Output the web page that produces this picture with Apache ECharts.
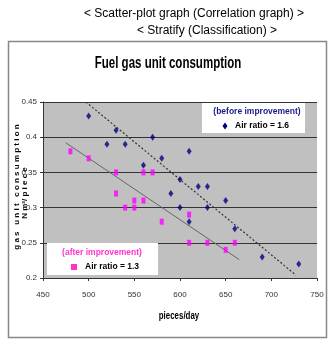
<!DOCTYPE html>
<html><head><meta charset="utf-8">
<script src="https://cdn.jsdelivr.net/npm/echarts@6/dist/echarts.min.js"></script>
<style>html,body{margin:0;padding:0;background:#fff}#c{width:332px;height:341px}</style>
</head><body><div id="c"></div>
<script>
const xTicks = [450, 500, 550, 600, 650, 700, 750];
const yTicks = [0.2, 0.25, 0.3, 0.35, 0.4, 0.45];
const beforeX = [500, 520, 530, 540, 560, 570, 580, 590, 600, 600, 610, 610, 620, 630, 630, 650, 660, 690, 730];
const beforeY = [0.43, 0.39, 0.41, 0.39, 0.36, 0.40, 0.37, 0.32, 0.34, 0.30, 0.38, 0.28, 0.33, 0.33, 0.30, 0.31, 0.27, 0.23, 0.22];
const afterX = [480, 500, 530, 530, 540, 550, 550, 560, 560, 570, 580, 610, 610, 630, 650, 660];
const afterY = [0.38, 0.37, 0.35, 0.32, 0.30, 0.31, 0.30, 0.35, 0.31, 0.35, 0.28, 0.29, 0.25, 0.25, 0.24, 0.25];
const beforeTrendX = [497, 727];
const beforeTrendY = [0.45, 0.204];
const afterTrendX = [475, 665];
const afterTrendY = [0.392, 0.226];

const zip = (a, b) => a.map((v, i) => [v, b[i]]);
const sans = "'Liberation Sans', Arial, sans-serif";
const chart = echarts.init(document.getElementById('c'), null, {renderer: 'canvas'});
chart.setOption({
  animation: false,
  grid: {left: 43, right: 15, top: 102, bottom: 63, show: true, backgroundColor: '#c0c0c0', borderWidth: 0},
  xAxis: {
    type: 'value', min: 450, max: 750, interval: 50,
    axisLine: {show: true, lineStyle: {color: '#333', width: 1}},
    axisTick: {show: true, length: 3, lineStyle: {color: '#333'}},
    splitLine: {show: false},
    axisLabel: {color: '#333', fontSize: 8, margin: 13, fontFamily: sans}
  },
  yAxis: {
    type: 'value', min: 0.2, max: 0.45, interval: 0.05,
    axisLine: {show: true, lineStyle: {color: '#333', width: 1}},
    axisTick: {show: true, length: 3, lineStyle: {color: '#333'}},
    splitLine: {show: true, lineStyle: {color: '#333', width: 1}},
    axisLabel: {color: '#333', fontSize: 8, margin: 6, fontFamily: sans,
      formatter: v => String(+v.toFixed(2))}
  },
  graphic: [
    {type: 'rect', shape: {x: 8.5, y: 41.5, width: 318, height: 296}, style: {fill: 'none', stroke: '#888', lineWidth: 1.5}, z: -1},
    {type: 'text', x: 194, y: 14, style: {text: '< Scatter-plot graph (Correlation graph) >', fontSize: 12, fontFamily: sans, fill: '#000', align: 'center', verticalAlign: 'middle'}},
    {type: 'text', x: 207, y: 31, style: {text: '< Stratify (Classification) >', fontSize: 12, fontFamily: sans, fill: '#000', align: 'center', verticalAlign: 'middle'}},
    {type: 'text', x: 168, y: 64, scaleX: 0.72, style: {text: 'Fuel gas unit consumption', fontSize: 16, fontWeight: 'bold', fontFamily: sans, fill: '#000', align: 'center', verticalAlign: 'middle'}},
    {type: 'text', x: 179, y: 316, scaleX: 0.72, style: {text: 'pieces/day', fontSize: 11, fontWeight: 'bold', fontFamily: sans, fill: '#000', align: 'center', verticalAlign: 'middle'}},
    {type: 'text', x: 17, y: 187, rotation: Math.PI / 2, style: {text: 'g a s   u n i t   c o n s u m p t i o n', fontSize: 8, fontWeight: 'bold', fontFamily: sans, fill: '#000', align: 'center', verticalAlign: 'middle'}},
    {type: 'text', x: 25, y: 193, rotation: Math.PI / 2, style: {text: 'N m³/ p i e c e', fontSize: 8, fontWeight: 'bold', fontFamily: sans, fill: '#000', align: 'center', verticalAlign: 'middle'}},
    {type: 'rect', shape: {x: 202, y: 103, width: 103, height: 30}, style: {fill: '#fff'}, z: 10},
    {type: 'text', x: 257, y: 112, style: {text: '(before improvement)', fontSize: 8.5, fontWeight: 'bold', fontFamily: sans, fill: '#1a1a8c', align: 'center', verticalAlign: 'middle'}, z: 11},
    {type: 'polygon', shape: {points: [[225, 122.5], [227.5, 126], [225, 129.5], [222.5, 126]]}, style: {fill: '#000080'}, z: 11},
    {type: 'text', x: 235, y: 126, style: {text: 'Air ratio = 1.6', fontSize: 8.5, fontWeight: 'bold', fontFamily: sans, fill: '#000', verticalAlign: 'middle'}, z: 11},
    {type: 'rect', shape: {x: 47, y: 243, width: 111, height: 32}, style: {fill: '#fff'}, z: 10},
    {type: 'text', x: 102, y: 253, style: {text: '(after improvement)', fontSize: 8.5, fontWeight: 'bold', fontFamily: sans, fill: '#ff33cc', align: 'center', verticalAlign: 'middle'}, z: 11},
    {type: 'rect', shape: {x: 71, y: 264, width: 6, height: 6}, style: {fill: '#ff33cc'}, z: 11},
    {type: 'text', x: 85, y: 267, style: {text: 'Air ratio = 1.3', fontSize: 8.5, fontWeight: 'bold', fontFamily: sans, fill: '#000', verticalAlign: 'middle'}, z: 11}
  ],
  series: [
    {type: 'line', data: zip(beforeTrendX, beforeTrendY), symbol: 'none', lineStyle: {color: '#333', width: 1.2, type: [2, 2]}, z: 2},
    {type: 'line', data: zip(afterTrendX, afterTrendY), symbol: 'none', lineStyle: {color: '#666', width: 1}, z: 2},
    {type: 'scatter', data: zip(beforeX, beforeY), symbol: 'diamond', symbolSize: [5, 7], itemStyle: {color: '#000080'}, z: 3},
    {type: 'scatter', data: zip(afterX, afterY), symbol: 'rect', symbolSize: [4, 6], itemStyle: {color: '#ff00ff'}, z: 3}
  ]
});
</script></body></html>
